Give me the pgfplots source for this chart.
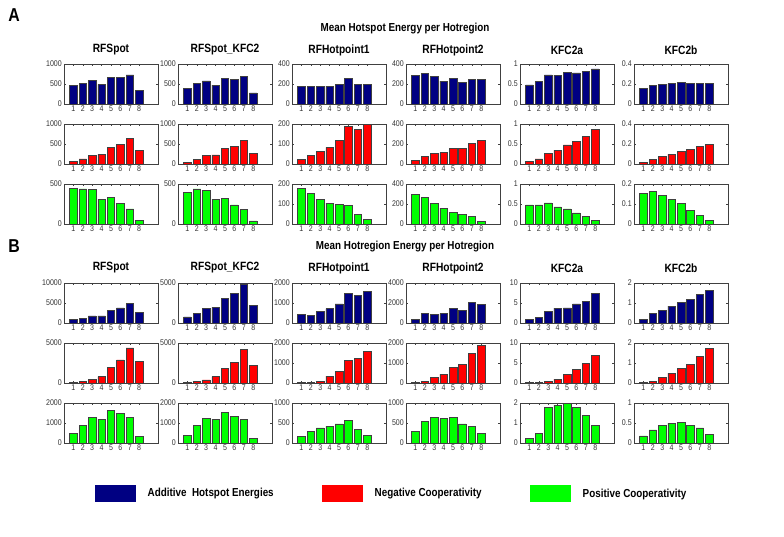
\documentclass[border=0pt]{standalone}
\usepackage{pgfplots}
\pgfplotsset{compat=1.18}
\usepackage{fontspec}
\setmainfont{Liberation Sans}[FakeStretch=0.85]
\definecolor{mblue}{RGB}{0,0,130}
\definecolor{mred}{RGB}{255,0,0}
\definecolor{mgreen}{RGB}{0,255,0}

\pgfplotsset{
  mini/.style={
    anchor=north west, scale only axis,
    width=70.5pt, height=30pt,
    xmin=0, xmax=10, ymin=0,
    xtick={1,2,3,4,5,6,7,8},
    tick align=inside, xtick pos=both, ytick pos=both,
    major tick length=1.6pt,
    xticklabel pos=bottom, yticklabel pos=left,
    axis line style={black!75, line width=0.5pt},
    tick style={black!75, line width=0.4pt},
    tick label style={font=\fontsize{6.2}{6.2}\selectfont, text=black!80},
    xticklabel style={inner sep=1pt},
    yticklabel style={inner sep=1.5pt},
    /pgf/number format/assume math mode=true,
    /pgf/number format/1000 sep={},
    scaled y ticks=false,
  },
}
% #1 x, #2 y (px), #3 ymax, #4 yticks, #5 colour, #6 data
\newcommand{\bp}[6]{%
  \begin{axis}[mini, at={(#1*0.75pt,#2*0.75pt)}, ymax=#3, ytick={#4}]
    \addplot[ybar, bar width=0.8, fill=#5, draw=black!75, line width=0.4pt] coordinates {#6};
  \end{axis}}

\begin{document}
\begin{tikzpicture}[x=0.75pt, y=0.75pt]
\path[use as bounding box] (0,0) rectangle (784,-536);
\tikzset{ttl/.style={font=\fontsize{8.7}{8.7}\selectfont\bfseries},
         ctl/.style={font=\fontsize{9}{9}\selectfont\bfseries}}

% ---------------- panel A
\node[font=\fontsize{14}{14}\selectfont\bfseries] at (14,-15) {A};
\node[ttl] at (405,-29) {Mean Hotspot Energy per Hotregion};
\foreach \x/\t in {111/RFSpot, 225/RFSpot\_KFC2, 339/RFHotpoint1, 453/RFHotpoint2, 567/KFC2a, 681/KFC2b}
  \node[ctl] at (\x,-50) {\t};

% RFSpot
\bp{64}{-64}{1000}{0,500,1000}{mblue}{(1,460)(2,510)(3,600)(4,490)(5,670)(6,660)(7,730)(8,345)}
\bp{64}{-124}{1000}{0,500,1000}{mred}{(1,60)(2,130)(3,220)(4,240)(5,420)(6,490)(7,640)(8,345)}
\bp{64}{-184}{500}{0,500}{mgreen}{(1,450)(2,440)(3,435)(4,310)(5,330)(6,260)(7,190)(8,50)}
% RFSpot_KFC2
\bp{178}{-64}{1000}{0,500,1000}{mblue}{(1,400)(2,520)(3,580)(4,470)(5,640)(6,610)(7,700)(8,280)}
\bp{178}{-124}{1000}{0,500,1000}{mred}{(1,50)(2,120)(3,210)(4,230)(5,390)(6,450)(7,600)(8,270)}
\bp{178}{-184}{500}{0,500}{mgreen}{(1,400)(2,440)(3,420)(4,310)(5,320)(6,240)(7,180)(8,40)}
% RFHotpoint1
\bp{292}{-64}{400}{0,200,400}{mblue}{(1,180)(2,180)(3,175)(4,180)(5,195)(6,255)(7,200)(8,200)}
\bp{292}{-124}{200}{0,100,200}{mred}{(1,22)(2,42)(3,63)(4,83)(5,120)(6,188)(7,175)(8,197)}
\bp{292}{-184}{200}{0,100,200}{mgreen}{(1,178)(2,155)(3,125)(4,105)(5,98)(6,95)(7,50)(8,25)}
% RFHotpoint2
\bp{406}{-64}{400}{0,200,400}{mblue}{(1,290)(2,310)(3,280)(4,230)(5,255)(6,215)(7,250)(8,245)}
\bp{406}{-124}{400}{0,200,400}{mred}{(1,40)(2,75)(3,105)(4,115)(5,160)(6,160)(7,210)(8,235)}
\bp{406}{-184}{400}{0,200,400}{mgreen}{(1,295)(2,265)(3,210)(4,160)(5,120)(6,100)(7,75)(8,30)}
% KFC2a
\bp{520}{-64}{1}{0,0.5,1}{mblue}{(1,0.48)(2,0.56)(3,0.73)(4,0.72)(5,0.79)(6,0.78)(7,0.81)(8,0.88)}
\bp{520}{-124}{1}{0,0.5,1}{mred}{(1,0.07)(2,0.13)(3,0.27)(4,0.35)(5,0.48)(6,0.57)(7,0.70)(8,0.87)}
\bp{520}{-184}{1}{0,0.5,1}{mgreen}{(1,0.48)(2,0.48)(3,0.53)(4,0.43)(5,0.38)(6,0.28)(7,0.20)(8,0.10)}
% KFC2b
\bp{634}{-64}{0.4}{0,0.2,0.4}{mblue}{(1,0.16)(2,0.19)(3,0.195)(4,0.205)(5,0.215)(6,0.205)(7,0.21)(8,0.205)}
\bp{634}{-124}{0.4}{0,0.2,0.4}{mred}{(1,0.02)(2,0.045)(3,0.075)(4,0.10)(5,0.13)(6,0.15)(7,0.18)(8,0.20)}
\bp{634}{-184}{0.2}{0,0.1,0.2}{mgreen}{(1,0.155)(2,0.165)(3,0.145)(4,0.125)(5,0.105)(6,0.07)(7,0.045)(8,0.02)}

% ---------------- panel B
\node[font=\fontsize{14}{14}\selectfont\bfseries] at (14,-246) {B};
\node[ttl] at (405,-247) {Mean Hotregion Energy per Hotregion};
\foreach \x/\t in {111/RFSpot, 225/RFSpot\_KFC2, 339/RFHotpoint1, 453/RFHotpoint2, 567/KFC2a, 681/KFC2b}
  \node[ctl] at (\x,-268) {\t};

% RFSpot
\bp{64}{-283}{10000}{0,5000,10000}{mblue}{(1,900)(2,1100)(3,1800)(4,1800)(5,3200)(6,3800)(7,5000)(8,2700)}
\bp{64}{-343}{5000}{0,5000}{mred}{(1,50)(2,200)(3,500)(4,800)(5,2000)(6,2900)(7,4400)(8,2700)}
\bp{64}{-403}{2000}{0,1000,2000}{mgreen}{(1,500)(2,900)(3,1300)(4,1200)(5,1650)(6,1500)(7,1300)(8,350)}
% RFSpot_KFC2
\bp{178}{-283}{5000}{0,5000}{mblue}{(1,780)(2,1200)(3,1800)(4,1950)(5,3100)(6,3700)(7,4900)(8,2200)}
\bp{178}{-343}{5000}{0,5000}{mred}{(1,50)(2,200)(3,400)(4,800)(5,1800)(6,2600)(7,4200)(8,2200)}
\bp{178}{-403}{2000}{0,1000,2000}{mgreen}{(1,400)(2,900)(3,1250)(4,1200)(5,1550)(6,1350)(7,1200)(8,250)}
% RFHotpoint1
\bp{292}{-283}{2000}{0,1000,2000}{mblue}{(1,430)(2,400)(3,580)(4,720)(5,960)(6,1480)(7,1400)(8,1580)}
\bp{292}{-343}{2000}{0,1000,2000}{mred}{(1,20)(2,50)(3,100)(4,350)(5,600)(6,1150)(7,1220)(8,1600)}
\bp{292}{-403}{1000}{0,500,1000}{mgreen}{(1,170)(2,300)(3,380)(4,420)(5,480)(6,560)(7,350)(8,200)}
% RFHotpoint2
\bp{406}{-283}{4000}{0,2000,4000}{mblue}{(1,350)(2,950)(3,850)(4,950)(5,1450)(6,1250)(7,2100)(8,1850)}
\bp{406}{-343}{2000}{0,1000,2000}{mred}{(1,30)(2,100)(3,300)(4,450)(5,800)(6,950)(7,1500)(8,1900)}
\bp{406}{-403}{1000}{0,500,1000}{mgreen}{(1,300)(2,550)(3,640)(4,610)(5,650)(6,480)(7,420)(8,250)}
% KFC2a
\bp{520}{-283}{10}{0,5,10}{mblue}{(1,0.9)(2,1.5)(3,3.0)(4,3.7)(5,3.8)(6,4.8)(7,5.5)(8,7.5)}
\bp{520}{-343}{10}{0,5,10}{mred}{(1,0.1)(2,0.2)(3,0.5)(4,1.0)(5,2.2)(6,3.4)(7,5.0)(8,7.0)}
\bp{520}{-403}{2}{0,1,2}{mgreen}{(1,0.25)(2,0.5)(3,1.8)(4,1.9)(5,2.0)(6,1.8)(7,1.4)(8,0.9)}
% KFC2b
\bp{634}{-283}{2}{0,1,2}{mblue}{(1,0.2)(2,0.5)(3,0.65)(4,0.85)(5,1.05)(6,1.2)(7,1.45)(8,1.65)}
\bp{634}{-343}{2}{0,1,2}{mred}{(1,0.05)(2,0.1)(3,0.3)(4,0.5)(5,0.75)(6,0.95)(7,1.35)(8,1.75)}
\bp{634}{-403}{1}{0,0.5,1}{mgreen}{(1,0.18)(2,0.33)(3,0.45)(4,0.5)(5,0.52)(6,0.45)(7,0.38)(8,0.22)}

% ---------------- legend
\tikzset{lg/.style={font=\fontsize{8.7}{8.7}\selectfont\bfseries, anchor=west}}
\fill[mblue] (95,-485) rectangle (136,-502);
\node[lg] at (143,-494) {Additive\ \ Hotspot Energies};
\fill[mred] (322,-485) rectangle (363,-502);
\node[lg] at (370,-494) {Negative Cooperativity};
\fill[mgreen] (530,-485) rectangle (571,-502);
\node[lg] at (578,-494) {Positive Cooperativity};
\end{tikzpicture}
\end{document}
